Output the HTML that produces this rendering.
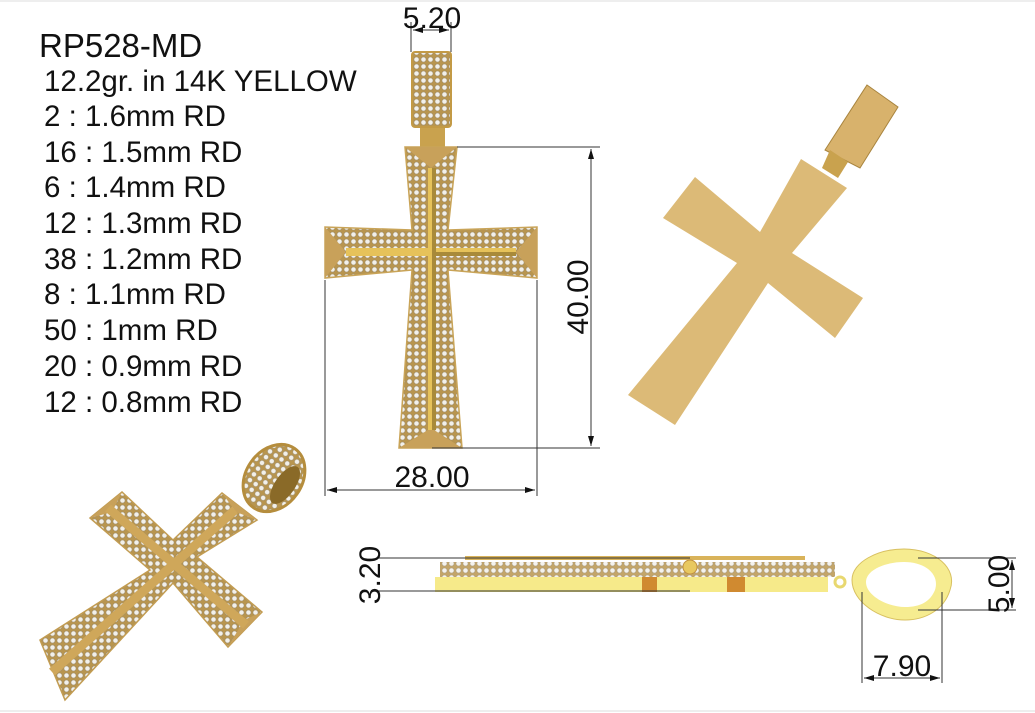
<!DOCTYPE html>
<html><head><meta charset="utf-8"><style>
html,body{margin:0;padding:0;background:#fff;}
svg{display:block;}
text{font-family:"Liberation Sans",sans-serif;fill:#111;}
</style></head><body>
<svg width="1035" height="713" viewBox="0 0 1035 713" xmlns="http://www.w3.org/2000/svg">
<defs>
<pattern id="pave" width="7" height="7" patternUnits="userSpaceOnUse">
<rect width="7" height="7" fill="#b8954f"/>
<circle cx="3.5" cy="3.5" r="2.6" fill="#f2f0ea" stroke="#9c8a66" stroke-width="0.6"/>
</pattern>
<marker id="ar" markerWidth="10" markerHeight="6" refX="10" refY="3" orient="auto-start-reverse" markerUnits="userSpaceOnUse">
<path d="M0,0 L10,3 L0,6 z" fill="#111"/>
</marker>
</defs>
<rect x="0" y="0" width="1035" height="713" fill="#fff"/>
<line x1="0" y1="1" x2="1035" y2="1" stroke="#ddd"/>
<line x1="0" y1="711" x2="1035" y2="711" stroke="#ddd"/>

<text x="39" y="57" font-size="33">RP528-MD</text>
<g font-size="29.5">
<text x="44" y="91">12.2gr. in 14K YELLOW</text>
<text x="44" y="126">2 : 1.6mm RD</text>
<text x="44" y="162">16 : 1.5mm RD</text>
<text x="44" y="197">6 : 1.4mm RD</text>
<text x="44" y="233">12 : 1.3mm RD</text>
<text x="44" y="269">38 : 1.2mm RD</text>
<text x="44" y="304">8 : 1.1mm RD</text>
<text x="44" y="340">50 : 1mm RD</text>
<text x="44" y="376">20 : 0.9mm RD</text>
<text x="44" y="412">12 : 0.8mm RD</text>
</g>

<rect x="420" y="125" width="25" height="22" fill="#c9a24e"/>
<rect x="412" y="52" width="39" height="75" rx="3" fill="url(#pave)" stroke="#c39a45" stroke-width="2"/>
<polygon points="405,147 457,147 448,230 537,227 537,278 448,270 462,448 399,448 412,270 325,278 325,227 412,230" fill="url(#pave)" stroke="#c9a458" stroke-width="1.5"/>
<polygon points="405,147 457,147 431,168" fill="#c8a15a"/>
<polygon points="399,448 462,448 431,428" fill="#c8a15a"/>
<polygon points="325,227 325,278 346,252" fill="#c8a15a"/>
<polygon points="537,227 537,278 516,252" fill="#c8a15a"/>
<rect x="428" y="168" width="8" height="262" fill="#e6c25a"/>
<rect x="346" y="248" width="170" height="8" fill="#e6c25a"/>
<rect x="432" y="168" width="4" height="262" fill="#a88a3a"/>
<rect x="432" y="252" width="84" height="4" fill="#a88a3a"/>

<g stroke="#333" stroke-width="1" fill="none">
<line x1="411" y1="22" x2="411" y2="52"/><line x1="451" y1="22" x2="451" y2="52"/>
<line x1="413" y1="30" x2="449" y2="30" marker-start="url(#ar)" marker-end="url(#ar)"/>
<line x1="457" y1="147" x2="600" y2="147"/><line x1="432" y1="448" x2="600" y2="448"/>
<line x1="591" y1="149" x2="591" y2="446" marker-start="url(#ar)" marker-end="url(#ar)"/>
<line x1="325" y1="280" x2="325" y2="496"/><line x1="537" y1="280" x2="537" y2="496"/>
<line x1="327" y1="490" x2="535" y2="490" marker-start="url(#ar)" marker-end="url(#ar)"/>
</g>
<text x="432" y="28" font-size="30" text-anchor="middle">5.20</text>
<text x="432" y="487" font-size="30" text-anchor="middle">28.00</text>
<text transform="translate(588,297) rotate(-90)" font-size="30" text-anchor="middle">40.00</text>

<polygon points="867,85 898,107 860,168 825,150" fill="#d8b26c" stroke="#a8843e" stroke-width="1"/>
<polygon points="830,150 848,162 838,178 822,168" fill="#c9a24e"/>
<polygon points="801,159 847,188 792,253 863,298 835,338 768,283 675,425 628,395 737,263 663,218 695,177 760,232" fill="#dcba77"/>

<ellipse cx="274" cy="478" rx="28" ry="36" transform="rotate(35 274 478)" fill="url(#pave)" stroke="#b58d3d" stroke-width="3"/>
<ellipse cx="285" cy="485" rx="10" ry="22" transform="rotate(35 285 485)" fill="#8a6a28"/>
<polygon points="222,493 257,520 197,557 262,612 228,647 173,583 65,700 40,640 150,570 90,518 122,492 173,540" fill="url(#pave)" stroke="#c29c52" stroke-width="1.5"/>
<polygon points="222,493 257,520 236,512" fill="#c8a15a"/>
<polygon points="262,612 228,647 244,620" fill="#c8a15a"/>
<polygon points="90,518 122,492 112,512" fill="#c8a15a"/>
<line x1="235" y1="510" x2="52" y2="672" stroke="#cfa75a" stroke-width="9"/>
<line x1="108" y1="508" x2="246" y2="625" stroke="#cfa75a" stroke-width="9"/>

<rect x="465" y="556" width="340" height="4" fill="#d9b35a"/>
<rect x="440" y="562" width="395" height="15" fill="url(#pave)" opacity="0.85"/>
<rect x="435" y="577" width="393" height="15" fill="#f6ea8a"/>
<rect x="642" y="577" width="15" height="15" fill="#d08a30"/>
<rect x="727" y="577" width="18" height="15" fill="#d08a30"/>
<circle cx="690" cy="567" r="7" fill="#e8c860" stroke="#c09040"/>
<circle cx="840" cy="582" r="5" fill="#fff" stroke="#e8d870" stroke-width="3"/>
<path d="M904,549 C935,549 958,568 950,590 C944,610 925,620 905,620 C880,620 852,602 852,580 C852,562 878,549 904,549 Z" fill="#f6ec90" stroke="#d8c060" stroke-width="1"/>
<path d="M904,562 C925,562 940,574 935,590 C930,602 920,607 905,607 C888,607 866,596 866,582 C866,570 885,562 904,562 Z" fill="#fff"/>
<g stroke="#333" stroke-width="1" fill="none">
<line x1="377" y1="558" x2="690" y2="558"/><line x1="377" y1="591" x2="690" y2="591"/>
<line x1="918" y1="558" x2="1016" y2="558"/><line x1="918" y1="610" x2="1016" y2="610"/>
<line x1="1012" y1="560" x2="1012" y2="608" marker-start="url(#ar)" marker-end="url(#ar)"/>
<line x1="862" y1="592" x2="862" y2="683"/><line x1="942" y1="592" x2="942" y2="683"/>
<line x1="864" y1="678" x2="940" y2="678" marker-start="url(#ar)" marker-end="url(#ar)"/>
</g>
<text transform="translate(380,575) rotate(-90)" font-size="30" text-anchor="middle">3.20</text>
<text transform="translate(1009,584) rotate(-90)" font-size="30" text-anchor="middle">5.00</text>
<text x="902" y="676" font-size="30" text-anchor="middle">7.90</text>
</svg>
</body></html>
